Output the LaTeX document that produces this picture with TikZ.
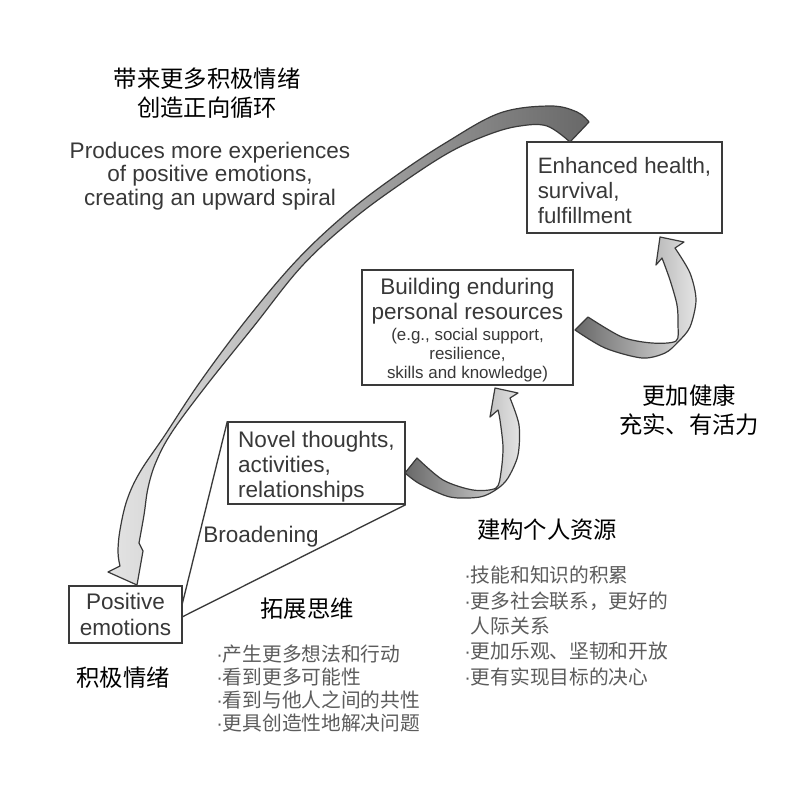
\documentclass[tikz,border=0pt]{standalone}
\usepackage{fontspec}
\setmainfont{Liberation Sans}
\newfontfamily\cjk{Noto Sans CJK SC}
\newfontfamily\lat{Liberation Sans}
\newcommand\bdot{{\lat ·}}
\definecolor{tx}{HTML}{383838}
\definecolor{bd}{HTML}{3A3A3A}
\definecolor{bl}{HTML}{5C5C5C}
\definecolor{adark}{HTML}{686868}
\definecolor{alight}{HTML}{E4E4E4}
\tikzset{
  box/.style={draw=bd, line width=1pt, inner sep=0pt, text=tx},
  entext/.style={font=\fontsize{16.9}{18.75}\selectfont},
  cjkhead/.style={font=\cjk\fontsize{17.5}{21.5}\selectfont, text=black, align=center, inner sep=0pt},
  cjklist/.style={font=\cjk\fontsize{14.8}{17.25}\selectfont, text=bl, align=left, anchor=west, inner sep=0pt},
  fatarrow/.style={draw=bd, line width=0.9pt, line join=round},
  thinline/.style={draw=bd, line width=1pt},
}
\begin{document}
\begin{tikzpicture}[x=0.75pt, y=-0.75pt]
\useasboundingbox (0,0) rectangle (800,800);
\fill[white] (0,0) rectangle (800,800);

% big return arrow
\draw[fatarrow, left color=alight, right color=adark] (589,122) -- plot[smooth, tension=0.6] coordinates {(589,122) (577,112) (550,106) (500,113) (447,142) (397,175) (347,213) (297,260) (247,319) (200,382) (165,435) (140,472) (127,500) (120,530) (118,552) (120,566)} -- (108,572) -- (137,585) -- (143,551) -- (139,543) -- plot[smooth, tension=0.6] coordinates {(139,543) (144,515) (148,488) (156,462) (172,432) (206,386) (254,326) (302,266) (352,220) (402,183) (450,152) (490,134) (520,126) (547,126) (570,142)} -- cycle;

% boxes
\node[box, minimum width=146.25pt, minimum height=68.25pt, align=left, font=\fontsize{16.7}{18.75}\selectfont] (enh) at (624.5,187.5) {\rule{0pt}{16.6pt}Enhanced health,\\survival,\\fulfillment};

\node[box, minimum width=158.25pt, minimum height=86.25pt, text width=155pt, align=flush center, font=\fontsize{16.9}{19}\selectfont] (bld) at (467.5,327.5) {\rule{0pt}{16pt}Building enduring\\personal resources\par\fontsize{12.7}{14.3}\selectfont\vspace{1pt}(e.g., social support,\\resilience,\\skills and knowledge)\par};

\node[box, minimum width=132.75pt, minimum height=61.5pt, align=left, font=\fontsize{16.9}{18.9}\selectfont] (nov) at (316.5,463) {\rule{0pt}{17.5pt}Novel thoughts,\\activities,\\relationships};

\node[box, minimum width=84.75pt, minimum height=42.75pt, align=center, font=\fontsize{16.9}{19.5}\selectfont] (pos) at (125.5,614.5) {Positive\\emotions};

% broadening lines
\coordinate (b1) at (182,605);
\coordinate (b2) at (182,617);
\draw[thinline] (b1) -- (nov.north west);
\draw[thinline] (b2) -- (nov.south east);

% small arrows
\draw[fatarrow, left color=adark, right color=alight] (417,458) -- plot[smooth] coordinates {(417,458) (443,480) (473,490) (496,488) (501,472) (503,447) (500,420) (498,410)} -- (490,417) -- (495,388) -- (518,393) -- (510,398) -- plot[smooth] coordinates {(510,398) (519,425) (518,455) (508,478) (497,489) (480,497) (450,497) (420,484) (405,473)} -- cycle;

\draw[fatarrow, left color=adark, right color=alight] (588,317) -- plot[smooth] coordinates {(588,317) (622,337) (652,343) (676,341) (678,325) (677,305) (670,280) (662,258)} -- (656,265) -- (660,237) -- (684,242) -- (675,248) -- plot[smooth] coordinates {(675,248) (690,273) (696,300) (690,327) (678,342) (665,353) (642,358) (605,348) (575,330)} -- cycle;

% texts
\node[cjkhead, font=\cjk\fontsize{17.5}{21.8}\selectfont] (title) at (207,93) {带来更多积极情绪\\创造正向循环};
\node[text=tx, align=center, inner sep=0pt, font=\fontsize{16.9}{17.6}\selectfont] (prod) at (210,176) {Produces more experiences\\of positive emotions,\\creating an upward spiral};
\node[entext, text=tx, inner sep=0pt] (brd) at (261,537) {Broadening};
\node[cjkhead] (jj) at (123,678) {积极情绪};
\node[cjkhead] (tz) at (307,609) {拓展思维};
\node[cjkhead] (jg) at (547,530) {建构个人资源};
\node[cjkhead, font=\cjk\fontsize{17.5}{21.75}\selectfont] (gj) at (689,410.5) {更加健康\\充实、有活力};

\node[cjklist] (llist) at (216,689) {\bdot 产生更多想法和行动\\\bdot 看到更多可能性\\\bdot 看到与他人之间的共性\\\bdot 更具创造性地解决问题};
\node[cjklist, font=\cjk\fontsize{14.8}{19}\selectfont] (rlist) at (464,626) {\bdot 技能和知识的积累\\\bdot 更多社会联系，更好的\\\phantom{\bdot}人际关系\\\bdot 更加乐观、坚韧和开放\\\bdot 更有实现目标的决心};
\end{tikzpicture}
\end{document}
